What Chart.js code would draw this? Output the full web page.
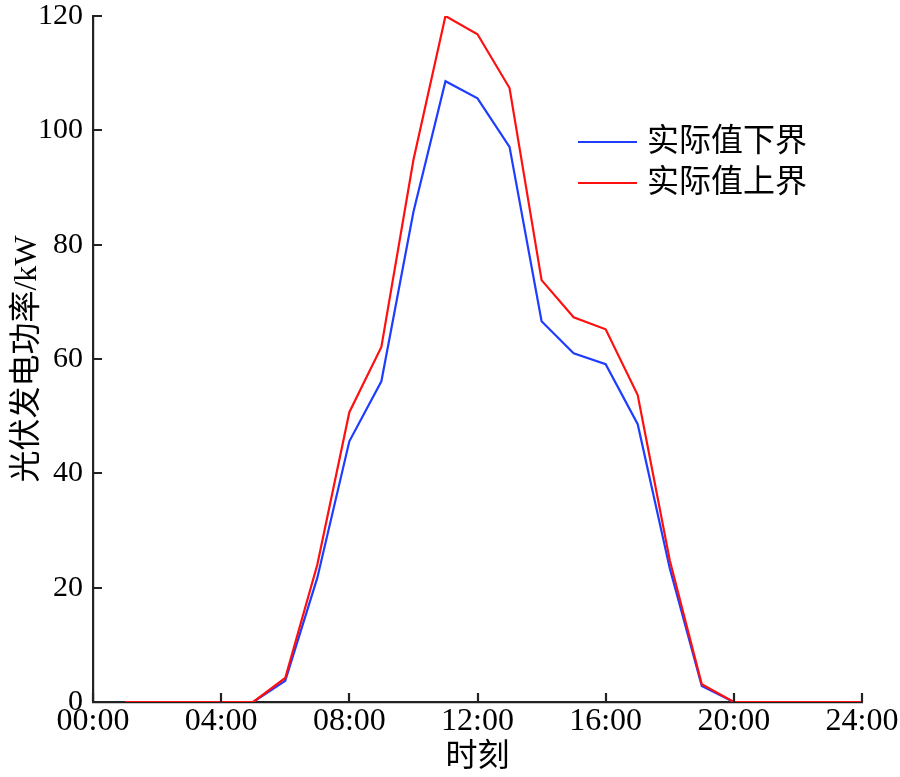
<!DOCTYPE html>
<html><head><meta charset="utf-8">
<script src="https://cdn.jsdelivr.net/npm/chart.js@4/dist/chart.umd.min.js"></script>
<style>html,body{margin:0;padding:0;background:#fff;}</style>
</head><body>
<canvas id="c" width="900" height="777"></canvas>
<script>
const hours = [1,2,3,4,5,6,7,8,9,10,11,12,13,14,15,16,17,18,19,20,21,22,23,24];
const lowerBound = [0,0,0,0,0,3.7,21.7,45.6,56.1,85.7,108.6,105.6,97.1,66.6,61.0,59.1,48.6,23.4,2.8,0,0,0,0,0];
const upperBound = [0,0,0,0,0,4.2,24.0,50.7,62.1,94.8,120.0,116.8,107.4,73.8,67.3,65.2,53.7,24.8,3.1,0,0,0,0,0];
const xTickLabels = ['00:00','04:00','08:00','12:00','16:00','20:00','24:00'];
const yTickValues = [0,20,40,60,80,100,120];
const seriesNames = ['实际值下界','实际值上界'];
const seriesColors = ['#1f3dff','#ff1010'];
const xTitle = '时刻';
const yTitle = '光伏发电功率/kW';

const FONT = "'Times New Roman', 'Liberation Serif', 'Noto Sans CJK SC', serif";

const inwardTicks = {
  id: 'inwardTicks',
  afterDraw(chart) {
    const ctx = chart.ctx, xs = chart.scales.x, ys = chart.scales.y;
    const area = chart.chartArea;
    ctx.save();
    ctx.strokeStyle = '#222';
    ctx.lineWidth = 2.2;
    ctx.beginPath();
    xs.ticks.forEach(t => {
      const px = Math.round(xs.getPixelForValue(t.value));
      ctx.moveTo(px, area.bottom);
      ctx.lineTo(px, area.bottom - 9);
    });
    ys.ticks.forEach(t => {
      const py = Math.round(ys.getPixelForValue(t.value));
      ctx.moveTo(area.left, py);
      ctx.lineTo(area.left + 9, py);
    });
    ctx.stroke();
    // legend
    const lx0 = 578, lx1 = 637, ly = [142, 183];
    chart.data.datasets.forEach((ds, i) => {
      ctx.strokeStyle = ds.borderColor;
      ctx.lineWidth = 2.2;
      ctx.beginPath();
      ctx.moveTo(lx0, ly[i]);
      ctx.lineTo(lx1, ly[i]);
      ctx.stroke();
      ctx.fillStyle = '#000';
      ctx.font = "32px " + FONT;
      ctx.textBaseline = 'middle';
      ctx.textAlign = 'left';
      ctx.fillText(ds.label, 647, ly[i] + 1);
    });
    ctx.restore();
  }
};

new Chart(document.getElementById('c'), {
  type: 'line',
  data: {
    datasets: [
      { label: seriesNames[0], data: hours.map((h,i)=>({x:h,y:lowerBound[i]})), borderColor: seriesColors[0], borderWidth: 2.2, pointRadius: 0, tension: 0, fill: false, order: 1 },
      { label: seriesNames[1], data: hours.map((h,i)=>({x:h,y:upperBound[i]})), borderColor: seriesColors[1], borderWidth: 2.2, pointRadius: 0, tension: 0, fill: false, order: 0 }
    ]
  },
  options: {
    responsive: false,
    animation: false,
    devicePixelRatio: 1,
    layout: { padding: { left: 0, right: 38, top: 16, bottom: 0 } },
    plugins: { legend: { display: false }, tooltip: { enabled: false } },
    scales: {
      x: {
        type: 'linear', min: 0, max: 24,
        afterBuildTicks: s => { s.ticks = xTickLabels.map((_, i) => ({ value: i * 4 })); },
        afterFit: s => { s.height = 75; s.paddingLeft = 0; s.paddingRight = 0; },
        ticks: { callback: v => xTickLabels[v / 4], color: '#000', font: { family: FONT, size: 32 }, padding: 0, maxRotation: 0, autoSkip: false },
        grid: { display: false, drawTicks: false },
        border: { display: true, color: '#222', width: 2.2 },
        title: { display: true, text: xTitle, color: '#000', font: { family: FONT, size: 32 }, padding: { top: 0, bottom: 0 } }
      },
      y: {
        min: 0, max: 120,
        afterBuildTicks: s => { s.ticks = yTickValues.map(v => ({ value: v })); },
        afterFit: s => { s.width = 93; s.paddingTop = 0; s.paddingBottom = 0; },
        ticks: { color: '#000', font: { family: FONT, size: 30 }, padding: 10 },
        grid: { display: false, drawTicks: false },
        border: { display: true, color: '#222', width: 2.2 },
        title: { display: true, text: yTitle, color: '#000', font: { family: FONT, size: 32 }, padding: { top: 8, bottom: 0 } }
      }
    }
  },
  plugins: [inwardTicks]
});
</script>
</body></html>
